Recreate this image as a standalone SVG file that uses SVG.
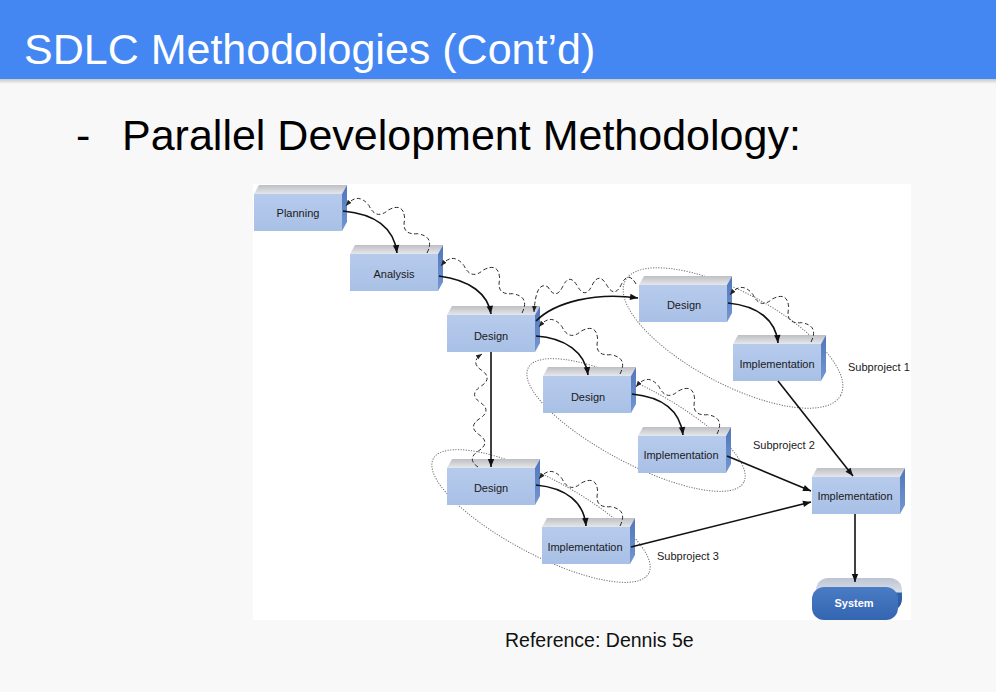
<svg xmlns="http://www.w3.org/2000/svg" xmlns:xlink="http://www.w3.org/1999/xlink" width="996" height="692" viewBox="0 0 996 692">
  <style>
    .title { font-family: "Liberation Sans", Arial, sans-serif; font-size: 43px; fill: #ffffff; }
    .bullet { font-family: "Liberation Sans", Arial, sans-serif; font-size: 43px; fill: #000000; }
    .lbl { font-family: "Liberation Sans", Arial, sans-serif; font-size: 11px; fill: #1a1a1a; text-anchor: middle; }
    .sub { font-family: "Liberation Sans", Arial, sans-serif; font-size: 11px; fill: #1a1a1a; }
    .ref { font-family: "Liberation Sans", Arial, sans-serif; font-size: 19.5px; fill: #111111; }
    .flow { fill: none; stroke: #111111; stroke-width: 1.6; marker-end: url(#arrow); }
    .back { fill: none; stroke: #2a2a2a; stroke-width: 1; stroke-dasharray: 4 2.5; marker-end: url(#arrow-small); }
    .group { fill: none; stroke: #6e6e6e; stroke-width: 1; stroke-dasharray: 1.2 1.4; }
  </style>
  <defs>
    <linearGradient id="top-face" x1="0" y1="0" x2="0" y2="1">
      <stop offset="0" stop-color="#bdbfc4"/>
      <stop offset="1" stop-color="#e6e7eb"/>
    </linearGradient>
    <linearGradient id="side-face" x1="0" y1="0" x2="0" y2="1">
      <stop offset="0" stop-color="#4f76bb"/>
      <stop offset="1" stop-color="#7597d2"/>
    </linearGradient>
    <linearGradient id="front-face" x1="0" y1="0" x2="0" y2="1">
      <stop offset="0" stop-color="#b6cbec"/>
      <stop offset="1" stop-color="#a9c0e6"/>
    </linearGradient>
    <linearGradient id="system-face" x1="0" y1="0" x2="0" y2="1">
      <stop offset="0" stop-color="#4a7cc6"/>
      <stop offset="1" stop-color="#3465b0"/>
    </linearGradient>
    <linearGradient id="system-back" x1="0" y1="0" x2="0" y2="1">
      <stop offset="0" stop-color="#bcc4d3"/>
      <stop offset="0.42" stop-color="#d9dee7"/>
      <stop offset="0.46" stop-color="#3463ad"/>
      <stop offset="1" stop-color="#2a569d"/>
    </linearGradient>
    <linearGradient id="header-shadow" x1="0" y1="0" x2="0" y2="1">
      <stop offset="0" stop-color="#bdbdbd"/>
      <stop offset="1" stop-color="#f8f8f8"/>
    </linearGradient>
    <marker id="arrow" viewBox="0 0 10 10" refX="10" refY="5" markerWidth="9" markerHeight="8" markerUnits="userSpaceOnUse" orient="auto">
      <path d="M0,1 L10,5 L0,9 z" fill="#111111"/>
    </marker>
    <marker id="arrow-small" viewBox="0 0 10 10" refX="10" refY="5" markerWidth="6" markerHeight="6" markerUnits="userSpaceOnUse" orient="auto">
      <path d="M0,1 L10,5 L0,9 z" fill="#222222"/>
    </marker>
    <!-- 3D process box, front face 88x37 anchored at its top-left corner -->
    <g id="box">
      <polygon points="0,0 5,-9 93,-9 88,0" fill="url(#top-face)"/>
      <polygon points="88,0 93,-9 93,28 88,37" fill="url(#side-face)"/>
      <rect x="0" y="0" width="88" height="37" fill="url(#front-face)"/>
    </g>
  </defs>

  <!-- slide background and header -->
  <rect x="0" y="0" width="996" height="692" fill="#f8f8f8"/>
  <rect x="0" y="78" width="996" height="6" fill="url(#header-shadow)"/>
  <rect x="0" y="0" width="996" height="79" fill="#4487f3"/>
  <text class="title" x="24" y="64">SDLC Methodologies (Cont’d)</text>
  <text class="bullet" x="76" y="150">-</text>
  <text class="bullet" x="122" y="150">Parallel Development Methodology:</text>

  <!-- figure panel -->
  <rect x="253" y="184" width="658" height="436" fill="#ffffff"/>

  <!-- subproject groupings -->
  <g id="subproject-groups">
    <ellipse class="group" cx="733" cy="338" rx="122" ry="46" transform="rotate(28 733 338)"/>
    <ellipse class="group" cx="636" cy="425" rx="122" ry="38" transform="rotate(28 636 425)"/>
    <ellipse class="group" cx="541" cy="516" rx="122" ry="38" transform="rotate(28 541 516)"/>
    <text class="sub" x="848" y="371">Subproject 1</text>
    <text class="sub" x="753" y="449">Subproject 2</text>
    <text class="sub" x="657" y="560">Subproject 3</text>
  </g>

  <!-- nodes -->
  <g id="node-planning" transform="translate(254,194)">
    <use xlink:href="#box"/>
    <text class="lbl" x="44" y="23">Planning</text>
  </g>
  <g id="node-analysis" transform="translate(350,254)">
    <use xlink:href="#box"/>
    <text class="lbl" x="44" y="24">Analysis</text>
  </g>
  <g id="node-design" transform="translate(447,315)">
    <use xlink:href="#box"/>
    <text class="lbl" x="44" y="25">Design</text>
  </g>
  <g id="node-design-1" transform="translate(639,285)">
    <use xlink:href="#box"/>
    <text class="lbl" x="45" y="24">Design</text>
  </g>
  <g id="node-implementation-1" transform="translate(733,344)">
    <use xlink:href="#box"/>
    <text class="lbl" x="44" y="24">Implementation</text>
  </g>
  <g id="node-design-2" transform="translate(543,376)">
    <use xlink:href="#box"/>
    <text class="lbl" x="45" y="25">Design</text>
  </g>
  <g id="node-implementation-2" transform="translate(638,436)">
    <use xlink:href="#box"/>
    <text class="lbl" x="43" y="23">Implementation</text>
  </g>
  <g id="node-design-3" transform="translate(447,468)">
    <use xlink:href="#box"/>
    <text class="lbl" x="44" y="24">Design</text>
  </g>
  <g id="node-implementation-3" transform="translate(542,527)">
    <use xlink:href="#box"/>
    <text class="lbl" x="43" y="24">Implementation</text>
  </g>
  <g id="node-implementation" transform="translate(812,477)">
    <use xlink:href="#box"/>
    <text class="lbl" x="43" y="23">Implementation</text>
  </g>
  <g id="node-system" transform="translate(812,587)">
    <rect x="4" y="-9" width="86" height="33" rx="12" ry="12" fill="url(#system-back)"/>
    <rect x="0" y="0" width="86" height="33" rx="12" ry="12" fill="url(#system-face)"/>
    <text class="lbl" x="42" y="20" style="fill:#ffffff;font-weight:bold">System</text>
  </g>

  <!-- connectors -->
  <g id="connectors">
    <!-- forward flow -->
    <path class="flow" d="M343,211 C375,214 394,228 397,253"/>
    <path class="flow" d="M439,276 C470,280 488,294 491,314"/>
    <path class="flow" d="M536,321 C555,302 595,292 638,298"/>
    <path class="flow" d="M536,336 C565,338 585,352 588,375"/>
    <path class="flow" d="M491,352 L491,467"/>
    <path class="flow" d="M728,303 C758,306 776,320 778,343"/>
    <path class="flow" d="M632,394 C662,397 680,410 683,435"/>
    <path class="flow" d="M536,485 C566,488 584,502 586,526"/>
    <path class="flow" d="M778,381 L853,476"/>
    <path class="flow" d="M727,456 L811,491"/>
    <path class="flow" d="M631,547 L811,502"/>
    <path class="flow" d="M855,514 L855,582"/>
    <!-- feedback to earlier phases: same wavy arc, placed at each source box -->
    <path class="back" transform="translate(427,253)" d="M0,0 Q8.25,-16.45 -9.48,-19.32 Q-25.92,-17.78 -22.32,-33.68 Q-22.97,-51.11 -38.52,-43.08 Q-50.97,-32.27 -58.08,-47.52 Q-69.44,-61.88 -81,-47"/>
    <path class="back" transform="translate(522,313)" d="M0,0 Q8.25,-16.45 -9.48,-19.32 Q-25.92,-17.78 -22.32,-33.68 Q-22.97,-51.11 -38.52,-43.08 Q-50.97,-32.27 -58.08,-47.52 Q-69.44,-61.88 -81,-47"/>
    <path class="back" transform="translate(620,374)" d="M0,0 Q8.25,-16.45 -9.48,-19.32 Q-25.92,-17.78 -22.32,-33.68 Q-22.97,-51.11 -38.52,-43.08 Q-50.97,-32.27 -58.08,-47.52 Q-69.44,-61.88 -81,-47"/>
    <path class="back" transform="translate(811,342)" d="M0,0 Q8.25,-16.45 -9.48,-19.32 Q-25.92,-17.78 -22.32,-33.68 Q-22.97,-51.11 -38.52,-43.08 Q-50.97,-32.27 -58.08,-47.52 Q-69.44,-61.88 -81,-47"/>
    <path class="back" transform="translate(717,434)" d="M0,0 Q8.25,-16.45 -9.48,-19.32 Q-25.92,-17.78 -22.32,-33.68 Q-22.97,-51.11 -38.52,-43.08 Q-50.97,-32.27 -58.08,-47.52 Q-69.44,-61.88 -81,-47"/>
    <path class="back" transform="translate(620,526)" d="M0,0 Q8.25,-16.45 -9.48,-19.32 Q-25.92,-17.78 -22.32,-33.68 Q-22.97,-51.11 -38.52,-43.08 Q-50.97,-32.27 -58.08,-47.52 Q-69.44,-61.88 -81,-47"/>
    <!-- subproject 1 design back to the shared design -->
    <path class="back" d="M636,284 Q628.2,270.25 621.3,284.5 Q614.5,298.75 606.7,285 Q598.8,271.25 592,285.5 Q585.2,299.75 577.3,286 Q569.5,272.25 562.7,286.5 Q555.8,300.75 548,287 Q536,280 534,312"/>
    <!-- subproject 3 design back to the shared design -->
    <path class="back" d="M478,467 Q466.29,458.93 478.57,450.86 Q490.86,442.79 479.14,434.71 Q467.43,426.64 479.71,418.57 Q492,410.5 480.29,402.43 Q468.57,394.36 480.86,386.29 Q493.14,378.21 481.43,370.14 Q469.71,362.07 482,354"/>
  </g>

  <text class="ref" x="505" y="647">Reference: Dennis 5e</text>
</svg>
